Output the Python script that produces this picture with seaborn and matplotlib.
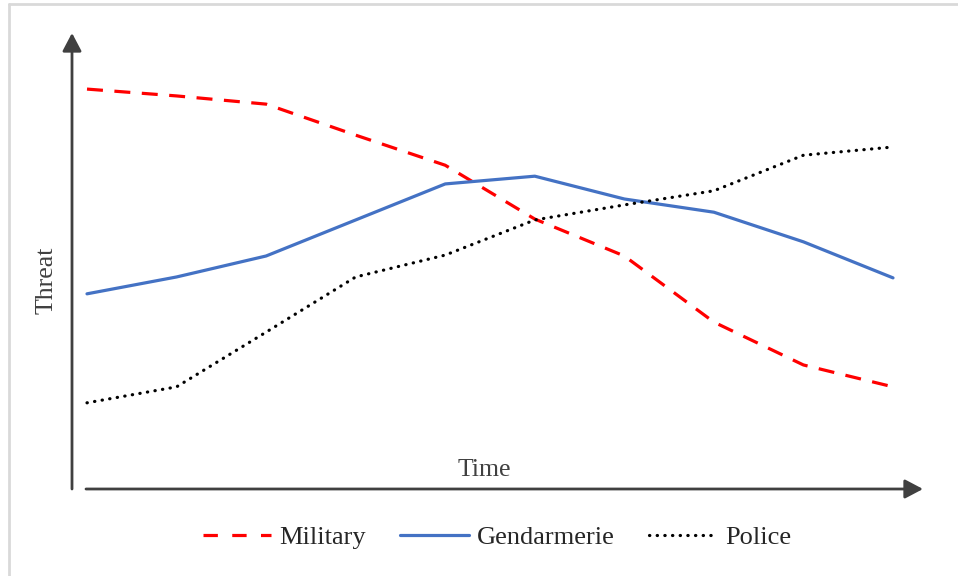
import numpy as np
import pandas as pd
import matplotlib
matplotlib.use("Agg")
import matplotlib.pyplot as plt
from matplotlib.lines import Line2D
import seaborn as sns

# values (arbitrary 0-100 "threat" scale)
time_steps = list(range(10))
military = [87.7, 86.2, 84.4, 77.6, 71.0, 59.2, 51.1, 36.6, 27.2, 22.4]
gendarmerie = [42.8, 46.5, 51.1, 59.0, 66.9, 68.6, 63.6, 60.7, 54.2, 46.3]
police = [18.9, 22.4, 34.4, 46.5, 51.3, 59.0, 62.3, 65.4, 73.2, 75.0]
series_names = ["Military", "Gendarmerie", "Police"]
series_colors = ["#ff0000", "#4472c4", "#000000"]

df = pd.DataFrame({"Time": time_steps, "Military": military,
                   "Gendarmerie": gendarmerie, "Police": police})
long_df = df.melt(id_vars="Time", var_name="Force", value_name="Threat")

sns.set_style("white")
plt.rcParams["font.family"] = ["Liberation Serif", "DejaVu Serif"]

W, H = 958, 576
fig = plt.figure(figsize=(W / 100, H / 100), dpi=100)
ax = fig.add_axes([72 / W, 1 - 489 / H, (923 - 72) / W, (489 - 33) / H])

dot_dash = (0.1, 2.3)
sns.lineplot(data=long_df, x="Time", y="Threat", hue="Force", style="Force",
             hue_order=series_names, style_order=series_names,
             palette=series_colors,
             dashes={"Military": (5, 3.6), "Gendarmerie": "", "Police": dot_dash},
             linewidth=2.3, ax=ax, legend=False)
# round caps so the police line reads as dots
ax.get_lines()[2].set_dash_capstyle("round")

ax.set_xlim((72 - 87) / 89.56, 9 + 30 / 89.56)
ax.set_ylim(0, 100)
ax.set_xticks([])
ax.set_yticks([])
ax.set_xlabel("")
ax.set_ylabel("")
for s in ax.spines.values():
    s.set_visible(False)
ax.patch.set_alpha(0)

# axis arrows
axis_col = "#404040"
arrow = dict(arrowstyle="-|>,head_length=0.55,head_width=0.29", color=axis_col,
             lw=2, mutation_scale=20, shrinkA=0, shrinkB=0)
ax.annotate("", xy=(0, 1), xytext=(0, 0), xycoords="axes fraction", arrowprops=arrow)
ax.annotate("", xy=(1, 0), xytext=((86 - 72) / 851, 0), xycoords="axes fraction",
            arrowprops=arrow)

fig.text(484 / W, 1 - 470 / H, "Time", ha="center", va="center",
         fontsize=18.5, color=axis_col)
fig.text(47 / W, 1 - 280 / H, "Threat", ha="center", va="center", rotation=90,
         fontsize=18.5, color=axis_col)

# legend
handles = [
    Line2D([], [], color=series_colors[0], lw=2.3, dashes=(4.5, 4.5)),
    Line2D([], [], color=series_colors[1], lw=2.3),
    Line2D([], [], color=series_colors[2], lw=2.3, dashes=dot_dash, dash_capstyle="round"),
]
fig.legend(handles, series_names, loc="center", bbox_to_anchor=(497 / W, 1 - 537 / H),
           ncol=3, frameon=False, fontsize=19, handlelength=2.6, handletextpad=0.3,
           columnspacing=1.3, labelcolor="#262626")

# light frame on left and top edges
fig.add_artist(Line2D([9 / W, 9 / W], [0, 1 - 4 / H], transform=fig.transFigure,
                      color="#d9d9d9", lw=2))
fig.add_artist(Line2D([9 / W, 1], [1 - 4 / H, 1 - 4 / H], transform=fig.transFigure,
                      color="#d9d9d9", lw=2))

fig.savefig("out.png", dpi=100)
